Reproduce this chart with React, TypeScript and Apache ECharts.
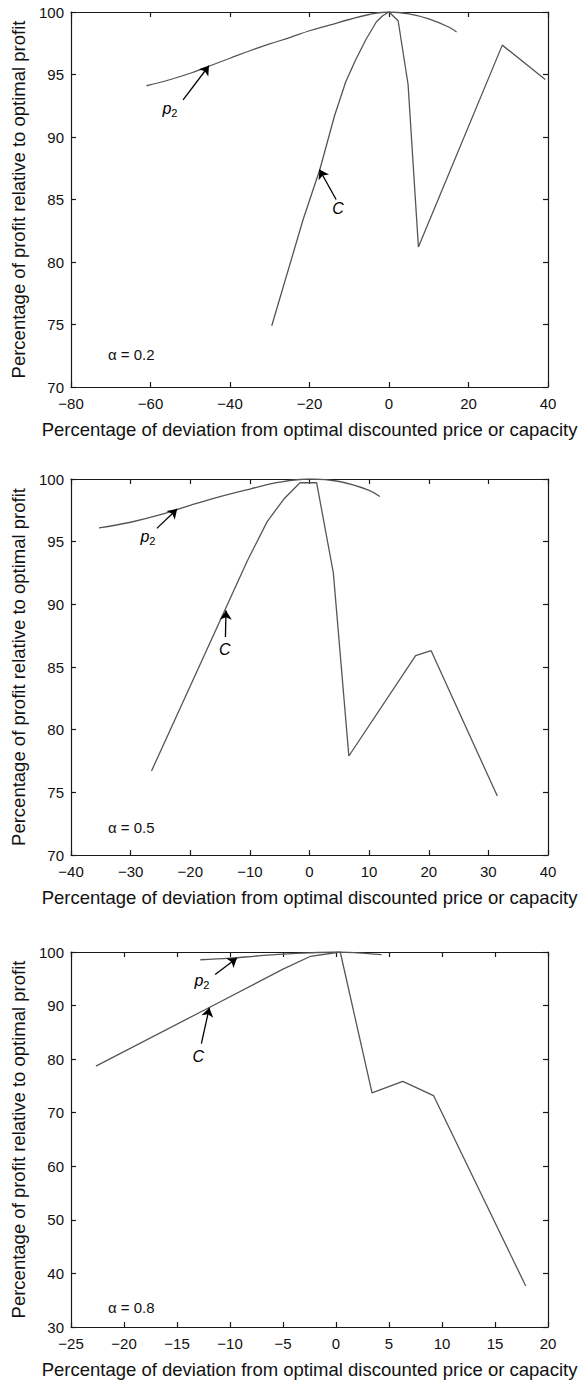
import React, { useEffect, useRef } from "react";
import * as echarts from "echarts";

// ---- data ----
const P2_A02_X = [-61, -55, -50, -45, -40, -35, -30, -25, -20, -15, -10, -5, 0, 5, 10, 15, 17];
const P2_A02_Y = [94.1, 94.6, 95.1, 95.7, 96.3, 96.9, 97.45, 97.95, 98.5, 98.95, 99.4, 99.8, 100, 99.85, 99.45, 98.8, 98.4];
const C_A02_X = [-29.5, -21.6, -17.4, -13.7, -10.9, -8.5, -5.8, -3.2, -1.6, 0, 2.3, 4.8, 7.4, 28.5, 39.3];
const C_A02_Y = [74.9, 83.4, 87.4, 91.7, 94.4, 96.1, 97.8, 99.2, 99.7, 100, 99.3, 94.2, 81.2, 97.35, 94.6];

const P2_A05_X = [-35.3, -30, -25, -20, -15, -10, -5, 0, 5, 10, 11.8];
const P2_A05_Y = [96.1, 96.55, 97.15, 97.9, 98.6, 99.2, 99.75, 100, 99.8, 99.1, 98.6];
const C_A05_X = [-26.5, -10.4, -7.1, -4.3, -1.6, 1.2, 4.0, 6.6, 17.8, 20.4, 31.5];
const C_A05_Y = [76.7, 93.5, 96.6, 98.4, 99.7, 99.7, 92.5, 77.9, 85.9, 86.3, 74.7];

const P2_A08_X = [-12.8, -10, -7.5, -5, -2.5, 0, 2, 4.3];
const P2_A08_Y = [98.55, 98.85, 99.25, 99.6, 99.85, 100, 99.85, 99.5];
const C_A08_X = [-22.65, -12, -5, -2.4, 0.4, 3.4, 6.3, 9.2, 17.9];
const C_A08_Y = [78.7, 89.6, 96.8, 99.2, 100, 73.7, 75.85, 73.2, 37.65];

const ALPHAS = ["α = 0.2", "α = 0.5", "α = 0.8"];
const X_RANGES = [
  [-80, 40, 20],
  [-40, 40, 10],
  [-25, 20, 5],
];
const Y_RANGES = [
  [70, 100, 5],
  [70, 100, 5],
  [30, 100, 10],
];
// arrow [tailX, tailY, tipX, tipY] for p2 and C, and label anchor points
const P2_ARROWS = [
  [-51.8, 92.97, -45.3, 95.7],
  [-25.6, 96.06, -22.2, 97.6],
  [-11.4, 95.8, -9.34, 98.9],
];
const C_ARROWS = [
  [-13.3, 85.0, -17.5, 87.4],
  [-14.1, 87.4, -14.0, 89.5],
  [-12.7, 82.9, -11.95, 89.6],
];
const P2_LABELS = [
  [-55.1, 92.3],
  [-27.1, 95.4],
  [-12.65, 94.7],
];
const C_LABELS = [
  [-12.8, 84.3],
  [-14.2, 86.4],
  [-13.0, 80.5],
];

const X_TITLE = "Percentage of deviation from optimal discounted price or capacity";
const Y_TITLE = "Percentage of profit relative to optimal profit";

const FONT = "'Liberation Sans', Arial, Helvetica, sans-serif";
const GRIDS = [
  { top: 12, height: 375 },
  { top: 479, height: 376 },
  { top: 952, height: 375 },
];
const LEFT = 71;
const WIDTH = 477;
const ALPHA_POS = [
  [108, 354],
  [108, 827],
  [108, 1307],
];

const zip = (xs: number[], ys: number[]) => xs.map((x, i) => [x, ys[i]]);
const minusFmt = (v: number) => (v < 0 ? "\u2212" + Math.abs(v) : String(v));

export default function App() {
  const ref = useRef<HTMLDivElement>(null);
  useEffect(() => {
    document.body.style.margin = "0";
    if (!ref.current) return;
    const chart = echarts.init(ref.current, undefined, { renderer: "svg" });
    const p2s = [zip(P2_A02_X, P2_A02_Y), zip(P2_A05_X, P2_A05_Y), zip(P2_A08_X, P2_A08_Y)];
    const cs = [zip(C_A02_X, C_A02_Y), zip(C_A05_X, C_A05_Y), zip(C_A08_X, C_A08_Y)];

    const axisLine = { show: true, onZero: false, lineStyle: { color: "#1a1a1a", width: 1.2 } };
    const axisTick = { show: true, inside: true, length: 5, lineStyle: { color: "#1a1a1a", width: 1.2 } };

    const grid: any[] = [];
    const xAxis: any[] = [];
    const yAxis: any[] = [];
    const series: any[] = [];
    const graphic: any[] = [];

    for (let i = 0; i < 3; i++) {
      grid.push({ left: LEFT, width: WIDTH, top: GRIDS[i].top, height: GRIDS[i].height });
      const [xmin, xmax, xint] = X_RANGES[i];
      const [ymin, ymax, yint] = Y_RANGES[i];
      xAxis.push({
        type: "value", gridIndex: i, position: "bottom", min: xmin, max: xmax, interval: xint,
        axisLine, axisTick, splitLine: { show: false },
        axisLabel: { color: "#111", fontSize: 15, fontFamily: FONT, margin: 9, formatter: minusFmt },
        name: X_TITLE, nameLocation: "middle", nameGap: 33,
        nameTextStyle: { color: "#111", fontSize: 18.5, fontFamily: FONT },
      });
      xAxis.push({
        type: "value", gridIndex: i, position: "top", min: xmin, max: xmax, interval: xint,
        axisLine, axisTick, splitLine: { show: false }, axisLabel: { show: false },
      });
      yAxis.push({
        type: "value", gridIndex: i, position: "left", min: ymin, max: ymax, interval: yint,
        axisLine, axisTick, splitLine: { show: false },
        axisLabel: { color: "#111", fontSize: 15, fontFamily: FONT, margin: 7 },
        name: Y_TITLE, nameLocation: "middle", nameGap: 42,
        nameTextStyle: { color: "#111", fontSize: 18.5, fontFamily: FONT },
      });
      yAxis.push({
        type: "value", gridIndex: i, position: "right", min: ymin, max: ymax, interval: yint,
        axisLine, axisTick, splitLine: { show: false }, axisLabel: { show: false },
      });

      const pa = P2_ARROWS[i];
      const ca = C_ARROWS[i];
      const pl = P2_LABELS[i];
      const cl = C_LABELS[i];
      series.push({
        type: "line", name: "p2", xAxisIndex: i * 2, yAxisIndex: i * 2,
        data: p2s[i], smooth: 0.4, showSymbol: false, symbol: "none",
        lineStyle: { color: "#555", width: 1.3 },
        silent: true,
        markLine: {
          silent: true, symbol: ["none", "arrow"], symbolSize: 9, animation: false,
          label: { show: false },
          lineStyle: { color: "#000", width: 1.3, type: "solid" },
          data: [
            [{ coord: [pa[0], pa[1]] }, { coord: [pa[2], pa[3]] }],
            [{ coord: [ca[0], ca[1]] }, { coord: [ca[2], ca[3]] }],
          ],
        },
        markPoint: {
          silent: true, symbol: "circle", symbolSize: 0, animation: false,
          data: [
            {
              coord: [pl[0], pl[1]],
              label: {
                show: true, position: "inside", formatter: "{p|p}{s|2}",
                rich: {
                  p: { fontStyle: "italic", fontSize: 16, fontFamily: FONT, color: "#000" },
                  s: { fontSize: 11, fontFamily: FONT, color: "#000", padding: [9, 0, 0, 0] },
                },
              },
            },
            {
              coord: [cl[0], cl[1]],
              label: {
                show: true, position: "inside", formatter: "C",
                fontStyle: "italic", fontSize: 16, fontFamily: FONT, color: "#000",
              },
            },
          ],
        },
      });
      series.push({
        type: "line", name: "C", xAxisIndex: i * 2, yAxisIndex: i * 2,
        data: cs[i], showSymbol: false, symbol: "none",
        lineStyle: { color: "#555", width: 1.3 },
        silent: true,
      });

      graphic.push({
        type: "text", x: ALPHA_POS[i][0], y: ALPHA_POS[i][1],
        style: { text: ALPHAS[i], fontSize: 15, fontFamily: FONT, fill: "#111", textVerticalAlign: "middle" },
      });
    }

    chart.setOption({
      animation: false,
      backgroundColor: "#fff",
      grid, xAxis, yAxis, series, graphic,
    });
    return () => chart.dispose();
  }, []);
  return <div ref={ref} style={{ width: 580, height: 1384, display: "block" }} />;
}
